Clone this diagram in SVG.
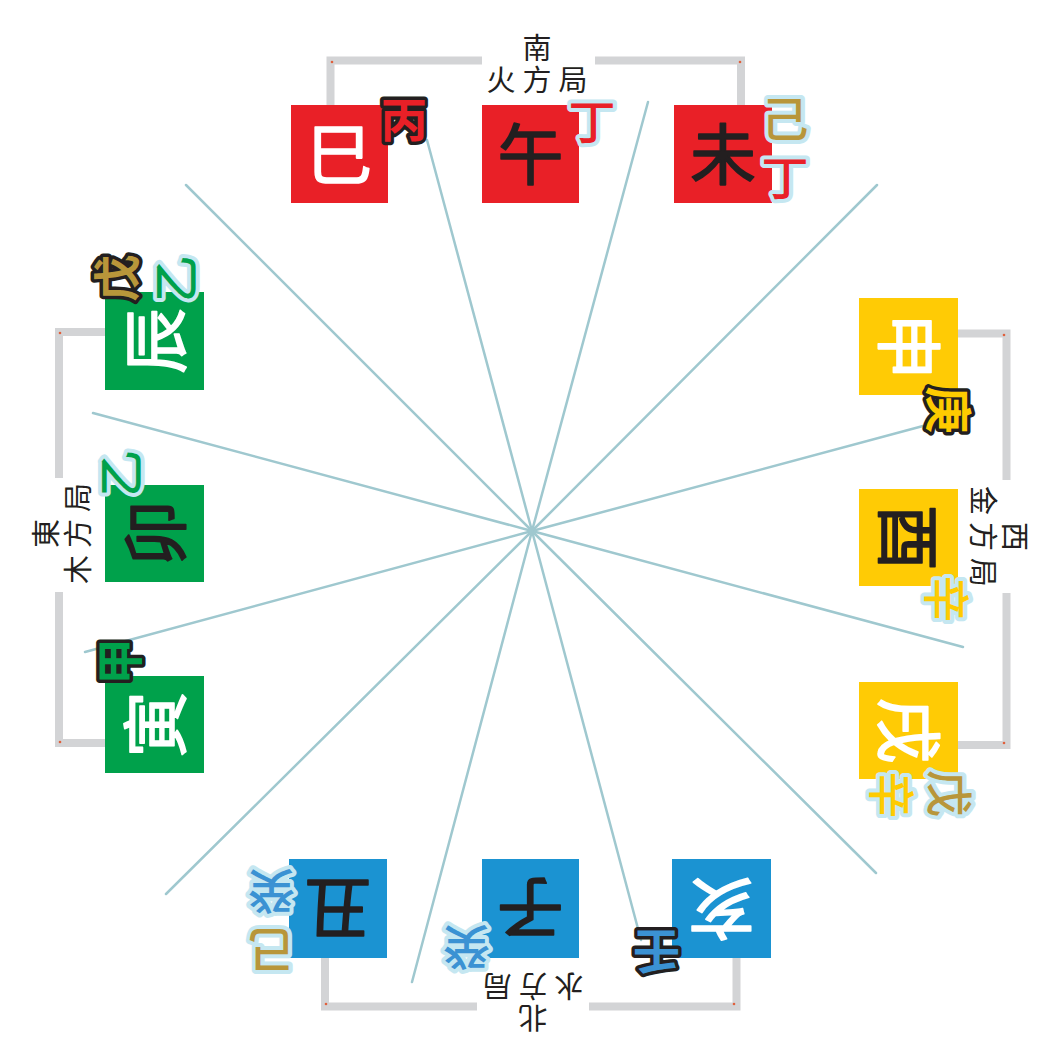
<svg xmlns="http://www.w3.org/2000/svg" width="1063" height="1063" viewBox="0 0 1063 1063">
<style>
.bg{fill:#ffffff}
.brk{fill:none;stroke:#d3d4d6;stroke-width:8}
.dot{fill:#e0603c}
.spoke{stroke:#9fc8cf;stroke-width:2.5;stroke-linecap:round}
.sqr{fill:#e92027}.sqy{fill:#ffcb05}.sqb{fill:#1b93d2}.sqg{fill:#00a14b}
.br{font-family:"Noto Sans CJK SC","Noto Sans CJK TC",sans-serif;font-size:66px;font-weight:400;text-anchor:middle;stroke-width:1.6px;stroke-linejoin:round}
.w{fill:#ffffff;stroke:#ffffff}.k{fill:#231f20;stroke:#231f20}
.st{font-family:"Noto Sans CJK SC","Noto Sans CJK TC",sans-serif;font-size:47px;text-anchor:middle;paint-order:stroke;stroke-linejoin:round}
.yin{stroke:#c5e7f1;stroke-width:8px;font-weight:500}
.yang{stroke:#231f20;stroke-width:7px;font-weight:700}
.fr{fill:#e92027}.fg{fill:#b8963a}.fy{fill:#fecb00}.fb{fill:#3b92d3}.fgr{fill:#00a14b}
.lbl{font-family:"Noto Sans CJK SC","Noto Sans CJK TC",sans-serif;font-size:29px;fill:#231f20;text-anchor:middle}
</style>
<rect class="bg" x="0" y="0" width="1063" height="1063"/>
<g id="connectors">
  <g id="brackets">
    <path class="brk" d="M330.5,105 V60.5 H482 M595,60.5 H741 V105"/>
    <path class="brk" d="M958,333.5 H1006.5 V480 M1006.5,593 V745 H958"/>
    <path class="brk" d="M325,958 V1006.5 H477 M589,1006.5 H736.5 V958"/>
    <path class="brk" d="M105,332 H59 V478 M59,592 V743 H105"/>
    <circle class="dot" cx="332" cy="62" r="1.3"/>
    <circle class="dot" cx="740" cy="62" r="1.3"/>
    <circle class="dot" cx="1004" cy="335" r="1.3"/>
    <circle class="dot" cx="1004" cy="743" r="1.3"/>
    <circle class="dot" cx="326" cy="1004" r="1.3"/>
    <circle class="dot" cx="734" cy="1004" r="1.3"/>
    <circle class="dot" cx="60" cy="333" r="1.3"/>
    <circle class="dot" cx="60" cy="742" r="1.3"/>
  </g>
  <g id="spokes">
    <line class="spoke" x1="532" y1="531" x2="186" y2="185"/>
    <line class="spoke" x1="532" y1="531" x2="427" y2="140"/>
    <line class="spoke" x1="532" y1="531" x2="648" y2="102"/>
    <line class="spoke" x1="532" y1="531" x2="877" y2="185"/>
    <line class="spoke" x1="532" y1="531" x2="923" y2="426"/>
    <line class="spoke" x1="532" y1="531" x2="963" y2="647"/>
    <line class="spoke" x1="532" y1="531" x2="876" y2="873"/>
    <line class="spoke" x1="532" y1="531" x2="641" y2="940"/>
    <line class="spoke" x1="532" y1="531" x2="412" y2="982"/>
    <line class="spoke" x1="532" y1="531" x2="166" y2="894"/>
    <line class="spoke" x1="532" y1="531" x2="85" y2="652"/>
    <line class="spoke" x1="532" y1="531" x2="93" y2="413"/>
  </g>
</g>
<g id="labels">
  <g id="label-south" transform="translate(537,64)">
    <text class="lbl" x="0" y="-5">南</text>
    <text class="lbl" x="-36 0 36" y="27">火方局</text>
  </g>
  <g id="label-west" transform="translate(999,536.5) rotate(90)">
    <text class="lbl" x="0" y="-5">西</text>
    <text class="lbl" x="-36 0 36" y="27">金方局</text>
  </g>
  <g id="label-north" transform="translate(533,1001.5) rotate(180)">
    <text class="lbl" x="0" y="-5">北</text>
    <text class="lbl" x="-36 0 36" y="27">水方局</text>
  </g>
  <g id="label-east" transform="translate(62,533.5) rotate(-90)">
    <text class="lbl" x="0" y="-5">東</text>
    <text class="lbl" x="-36 0 36" y="27">木方局</text>
  </g>
</g>
<g id="node-si">
  <rect class="sqr" x="291" y="105" width="97" height="98"/>
  <text class="br w" transform="translate(339.5,154)" y="25">巳</text>
  <text class="st yang fr" transform="translate(404,119)" y="18">丙</text>
</g>
<g id="node-wu">
  <rect class="sqr" x="482" y="105" width="97" height="98"/>
  <text class="br k" transform="translate(530.5,154)" y="25">午</text>
  <text class="st yin fr" transform="translate(592,121)" y="18">丁</text>
</g>
<g id="node-wei">
  <rect class="sqr" x="674" y="105" width="98" height="98"/>
  <text class="br k" transform="translate(723,154)" y="25">未</text>
  <text class="st yin fg" transform="translate(785,118)" y="18">己</text>
  <text class="st yin fr" transform="translate(785,177)" y="18">丁</text>
</g>
<g id="node-shen">
  <rect class="sqy" x="859" y="298" width="99" height="97"/>
  <text class="br w" transform="translate(908.5,346.5) rotate(90)" y="25">申</text>
  <text class="st yang fy" transform="translate(948.5,410) rotate(90)" y="18">庚</text>
</g>
<g id="node-you">
  <rect class="sqy" x="859" y="489" width="99" height="97"/>
  <text class="br k" transform="translate(908.5,537.5) rotate(90)" y="25">酉</text>
  <text class="st yin fy" transform="translate(947,599) rotate(90)" y="18">辛</text>
</g>
<g id="node-xu">
  <rect class="sqy" x="859" y="682" width="99" height="97"/>
  <text class="br w" transform="translate(908.5,730.5) rotate(90)" y="25">戌</text>
  <text class="st yin fg" transform="translate(950,793.5) rotate(90)" y="18">戊</text>
  <text class="st yin fy" transform="translate(891.5,795) rotate(90)" y="18">辛</text>
</g>
<g id="node-hai">
  <rect class="sqb" x="672" y="859" width="99" height="99"/>
  <text class="br w" transform="translate(721.5,908.5) rotate(180)" y="25">亥</text>
  <text class="st yang fb" transform="translate(656.5,951.5) rotate(180)" y="18">壬</text>
</g>
<g id="node-zi">
  <rect class="sqb" x="482" y="859" width="97" height="99"/>
  <text class="br k" transform="translate(530.5,908.5) rotate(180)" y="25">子</text>
  <text class="st yin fb" transform="translate(466.5,947.5) rotate(180)" y="18">癸</text>
</g>
<g id="node-chou">
  <rect class="sqb" x="289" y="859" width="98" height="99"/>
  <text class="br k" transform="translate(338,908.5) rotate(180)" y="25">丑</text>
  <text class="st yin fg" transform="translate(271.5,951) rotate(180)" y="18">己</text>
  <text class="st yin fb" transform="translate(271.5,892) rotate(180)" y="18">癸</text>
</g>
<g id="node-yin">
  <rect class="sqg" x="105" y="676" width="99" height="97"/>
  <text class="br w" transform="translate(154.5,724.5) rotate(-90)" y="25">寅</text>
  <text class="st yang fgr" transform="translate(119,661.5) rotate(-90)" y="18">甲</text>
</g>
<g id="node-mao">
  <rect class="sqg" x="105" y="485" width="99" height="97"/>
  <text class="br k" transform="translate(154.5,533.5) rotate(-90)" y="25">卯</text>
  <text class="st yin fgr" transform="translate(120,473.5) rotate(-90)" y="18">乙</text>
</g>
<g id="node-chen">
  <rect class="sqg" x="105" y="292" width="99" height="98"/>
  <text class="br w" transform="translate(154.5,341) rotate(-90)" y="25">辰</text>
  <text class="st yang fg" transform="translate(116,278) rotate(-90)" y="18">戊</text>
  <text class="st yin fgr" transform="translate(174.5,279) rotate(-90)" y="18">乙</text>
</g>
</svg>
